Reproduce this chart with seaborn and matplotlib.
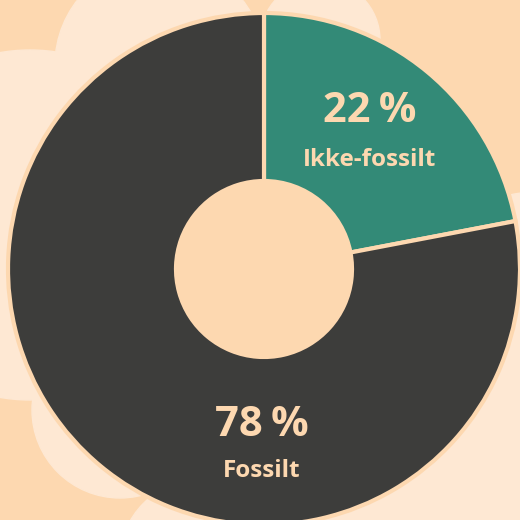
import matplotlib
matplotlib.use("Agg")
import matplotlib.pyplot as plt
from matplotlib.patches import Circle
import seaborn as sns

# share of energy use: non-fossil vs fossil
labels = ["Ikke-fossilt", "Fossilt"]
values = [22, 78]
pct_text = ["22\u2009%", "78\u2009%"]

colors = ["#338a77", "#3d3d3b"]
peach = "#fdd8b0"
cream = "#fee8d3"

sns.set_style("white")
plt.rcParams['font.family'] = ['Open Sans', 'DejaVu Sans']

fig = plt.figure(figsize=(5.2, 5.2), dpi=100, facecolor=peach)
ax = fig.add_axes([0, 0, 1, 1])
ax.set_facecolor(peach)

# soft cloud shapes behind the donut (y measured from bottom)
for cx, cy, r in [(160, 455, 105), (30, 295, 175), (120, 110, 88),
                  (200, -40, 80), (320, 480, 60), (560, 70, 260)]:
    ax.add_patch(Circle((cx, cy), r, color=cream, zorder=0))

ax.pie(values, colors=colors, startangle=90, counterclock=False,
       center=(264, 251), radius=256, frame=True,
       wedgeprops=dict(width=168, edgecolor=peach, linewidth=3))
# keep the hole plain
ax.add_patch(Circle((264, 251), 88, color=peach, zorder=5))

ax.set_xlim(0, 520)
ax.set_ylim(0, 520)
ax.set_aspect("equal")
ax.axis("off")

ax.text(370, 408, pct_text[0], ha="center", va="center", color=peach,
        fontsize=30, fontweight="bold", zorder=6)
ax.text(370, 360, labels[0], ha="center", va="center", color=peach,
        fontsize=17.5, fontweight="bold", zorder=6)
ax.text(262, 94, pct_text[1], ha="center", va="center", color=peach,
        fontsize=30, fontweight="bold", zorder=6)
ax.text(262, 49, labels[1], ha="center", va="center", color=peach,
        fontsize=17.5, fontweight="bold", zorder=6)

fig.savefig("out.png", dpi=100, facecolor=peach)
